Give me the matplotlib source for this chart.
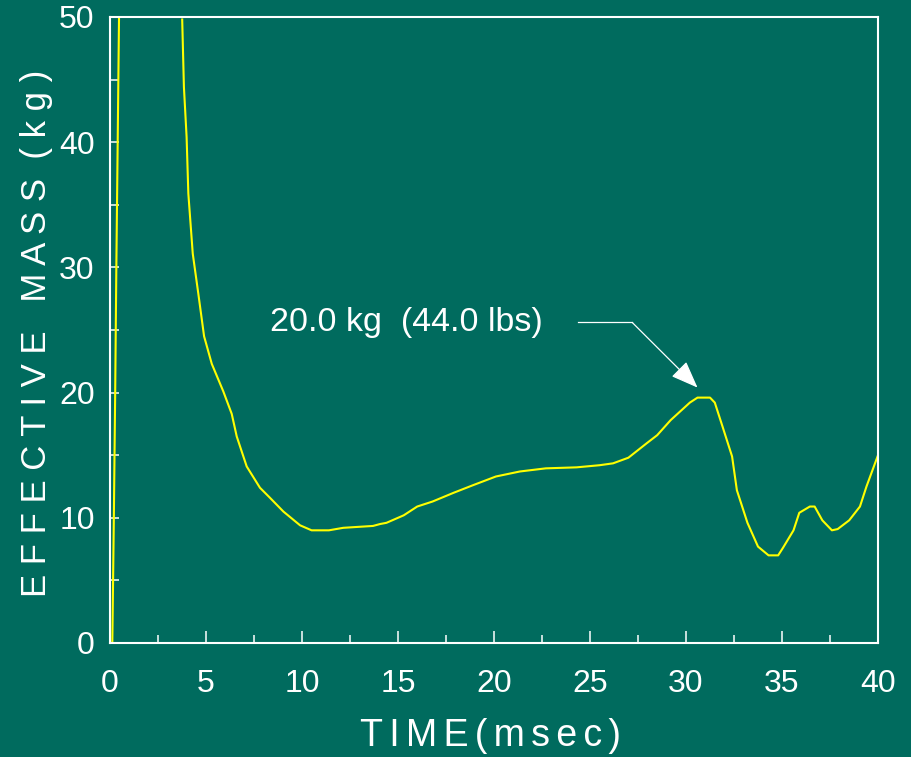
import matplotlib.pyplot as plt
import numpy as np

# --- Data ---
# rising edge at the start of the pulse
spike_time = [0.12, 0.20, 0.27, 0.33, 0.40, 0.47]
spike_mass = [0.0, 10.0, 20.0, 30.0, 40.0, 50.0]

# main trace after it comes back on scale
trace_time = [3.76, 3.85, 3.99, 4.08, 4.31, 4.6, 4.9, 5.3, 5.9, 6.34, 6.6, 7.12,
              7.81, 8.33, 9.03, 9.9, 10.5, 11.4, 12.15, 13.7, 14.06, 14.4, 15.3,
              16.0, 16.8, 17.9, 18.9, 20.1, 21.35, 22.7, 24.3, 25.5, 26.2, 27.0,
              27.95, 28.5, 29.2, 30.2, 30.6, 31.25, 31.5, 31.9, 32.4, 32.65, 33.2,
              33.75, 34.3, 34.8, 35.05, 35.6, 35.9, 36.45, 36.7, 37.1, 37.6, 37.9,
              38.5, 39.06, 39.4, 40.0]
trace_mass = [49.8, 44.4, 40.4, 35.9, 31.1, 27.9, 24.5, 22.3, 20.1, 18.3, 16.5, 14.1,
              12.4, 11.6, 10.5, 9.4, 9.0, 9.0, 9.2, 9.35, 9.5, 9.6, 10.2,
              10.9, 11.3, 12.0, 12.6, 13.3, 13.7, 13.95, 14.03, 14.2, 14.35, 14.8,
              15.95, 16.6, 17.8, 19.2, 19.6, 19.6, 19.2, 17.3, 14.9, 12.2, 9.6,
              7.7, 7.0, 7.0, 7.6, 9.0, 10.4, 10.9, 10.9, 9.8, 9.0, 9.1,
              9.8, 10.9, 12.5, 15.0]

peak_label = "20.0 kg  (44.0 lbs)"
peak_xy = (30.6, 20.4)
label_xy = (8.33, 25.6)
leader_x = [24.4, 27.2]

BG = "#006B5E"
FG = "white"
FONT = ["Liberation Sans", "DejaVu Sans"]

plt.rcParams["font.family"] = FONT

fig = plt.figure(figsize=(9.11, 7.57), dpi=100, facecolor=BG)
ax = fig.add_axes([110 / 911, 1 - 643 / 757, 768 / 911, 626 / 757], facecolor=BG)

ax.plot(spike_time, spike_mass, color="#FFFF00", lw=1.5)
ax.plot(trace_time, trace_mass, color="#FFFF00", lw=1.5)

ax.set_xlim(0, 40)
ax.set_ylim(0, 50)

for s in ax.spines.values():
    s.set_color(FG)
    s.set_linewidth(1.5)

ax.set_xticks(np.arange(0, 41, 5))
ax.set_xticks(np.arange(2.5, 40, 5), minor=True)
ax.set_yticks(np.arange(0, 51, 10))
ax.set_yticks(np.arange(5, 50, 10), minor=True)

ax.tick_params(axis="x", which="major", direction="in", length=8.5, width=1.1,
               color=FG, labelcolor=FG, labelsize=23, pad=19)
ax.tick_params(axis="x", which="minor", direction="in", length=6, width=1.1, color=FG)
ax.tick_params(axis="y", which="major", direction="in", length=6.5, width=1.1,
               color=FG, labelcolor=FG, labelsize=23, pad=11)
ax.tick_params(axis="y", which="minor", direction="in", length=6.5, width=1.1, color=FG)

# annotation with leader line and arrow
ax.text(label_xy[0], label_xy[1], peak_label, color=FG, fontsize=24.5,
        ha="left", va="center")
ax.plot(leader_x, [label_xy[1], label_xy[1]], color=FG, lw=0.9)
ax.annotate("", xy=peak_xy, xytext=(leader_x[1], label_xy[1]),
            arrowprops=dict(arrowstyle="-|>,head_length=0.85,head_width=0.33",
                            mutation_scale=20, color=FG, lw=0.9,
                            shrinkA=0, shrinkB=0))

# spaced-out axis titles
fig.text(490 / 911, 1 - 736 / 757, "\u2006".join("TIME(msec)"),
         color=FG, fontsize=27, ha="center", va="center")
fig.text(37 / 911, 1 - 333 / 757, "E F F E C T I V E   M A S S  ( k g )",
         color=FG, fontsize=25, ha="center", va="center", rotation=90)

fig.savefig("out.png", dpi=100, facecolor=BG)
